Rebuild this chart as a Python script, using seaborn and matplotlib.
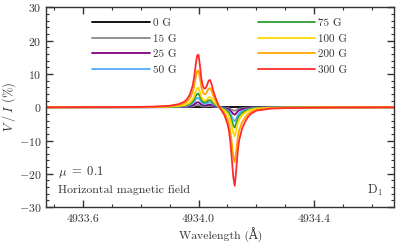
import numpy as np
import pandas as pd
import matplotlib
matplotlib.use("Agg")
import matplotlib.pyplot as plt
import seaborn as sns
from matplotlib.ticker import MultipleLocator, FormatStrFormatter, ScalarFormatter

# wavelength grid (Angstrom)
wave = [4933.475, 4933.60, 4933.70, 4933.80, 4933.85, 4933.90, 4933.93, 4933.95,
        4933.96, 4933.97, 4933.98, 4933.985, 4933.99, 4933.995, 4934.00, 4934.005,
        4934.01, 4934.015, 4934.02, 4934.025, 4934.03, 4934.035, 4934.04, 4934.045,
        4934.05, 4934.055, 4934.06, 4934.065, 4934.07, 4934.075, 4934.08, 4934.09,
        4934.10, 4934.105, 4934.11, 4934.115, 4934.12, 4934.125, 4934.13, 4934.135,
        4934.14, 4934.15, 4934.16, 4934.17, 4934.18, 4934.20, 4934.25, 4934.30,
        4934.40, 4934.50, 4934.675]

# V/I (%) for each field strength
v_0 = [0.0] * len(wave)
v_15 = [0.0, 0.0, 0.0, 0.01, 0.01, 0.02, 0.04, 0.07, 0.11, 0.17, 0.29, 0.41, 0.56, 0.7,
        0.71, 0.56, 0.38, 0.28, 0.25, 0.26, 0.31, 0.36, 0.37, 0.32, 0.23, 0.17, 0.12,
        0.07, 0.02, -0.02, -0.05, -0.11, -0.23, -0.32, -0.47, -0.7, -0.95, -1.06, -0.86,
        -0.61, -0.45, -0.29, -0.2, -0.14, -0.09, -0.05, -0.02, -0.01, -0.01, 0.0, 0.0]
v_25 = [0.0, 0.0, 0.0, 0.01, 0.02, 0.04, 0.09, 0.15, 0.23, 0.36, 0.62, 0.86, 1.19, 1.47,
        1.5, 1.19, 0.81, 0.6, 0.53, 0.55, 0.65, 0.76, 0.78, 0.67, 0.49, 0.36, 0.25, 0.14,
        0.04, -0.04, -0.1, -0.24, -0.48, -0.67, -1.0, -1.47, -2.0, -2.24, -1.81, -1.28,
        -0.95, -0.62, -0.43, -0.29, -0.19, -0.1, -0.04, -0.02, -0.01, -0.01, 0.0]
v_50 = [0.0, 0.0, 0.01, 0.02, 0.04, 0.08, 0.16, 0.29, 0.43, 0.68, 1.17, 1.62, 2.25, 2.79,
        2.84, 2.25, 1.53, 1.13, 1.01, 1.04, 1.22, 1.44, 1.48, 1.26, 0.94, 0.68, 0.47, 0.27,
        0.07, -0.07, -0.18, -0.45, -0.9, -1.26, -1.89, -2.79, -3.78, -4.25, -3.42, -2.43,
        -1.8, -1.17, -0.81, -0.54, -0.36, -0.18, -0.07, -0.05, -0.02, -0.01, 0.0]
v_75 = [0.0, 0.01, 0.01, 0.03, 0.05, 0.12, 0.23, 0.42, 0.62, 0.99, 1.69, 2.34, 3.25, 4.03,
        4.11, 3.25, 2.21, 1.64, 1.46, 1.51, 1.77, 2.08, 2.13, 1.82, 1.35, 0.99, 0.68, 0.39,
        0.1, -0.1, -0.26, -0.65, -1.3, -1.82, -2.73, -4.03, -5.46, -6.14, -4.94, -3.51,
        -2.6, -1.69, -1.17, -0.78, -0.52, -0.26, -0.1, -0.07, -0.03, -0.02, -0.01]
v_100 = [0.0, 0.01, 0.02, 0.04, 0.07, 0.17, 0.33, 0.59, 0.89, 1.41, 2.41, 3.33, 4.63, 5.74,
         5.85, 4.63, 3.15, 2.33, 2.07, 2.15, 2.52, 2.96, 3.03, 2.59, 1.92, 1.41, 0.96, 0.56,
         0.15, -0.15, -0.37, -0.93, -1.85, -2.59, -3.89, -5.74, -7.77, -8.73, -7.03, -5.0,
         -3.7, -2.41, -1.67, -1.11, -0.74, -0.37, -0.15, -0.09, -0.04, -0.02, -0.01]
v_200 = [0.0, 0.01, 0.035, 0.08, 0.14, 0.32, 0.63, 1.12, 1.68, 2.66, 4.55, 6.3, 8.75, 10.85,
         11.06, 8.75, 5.95, 4.41, 3.92, 4.06, 4.76, 5.6, 5.74, 4.9, 3.64, 2.66, 1.82, 1.05,
         0.28, -0.28, -0.7, -1.75, -3.5, -4.9, -7.35, -10.85, -14.7, -16.52, -13.3, -9.45,
         -7.0, -4.55, -3.15, -2.1, -1.4, -0.7, -0.28, -0.18, -0.08, -0.04, -0.01]
v_300 = [0.0, 0.02, 0.05, 0.12, 0.2, 0.45, 0.9, 1.6, 2.4, 3.8, 6.5, 9.0, 12.5, 15.5,
         15.8, 12.5, 8.5, 6.3, 5.6, 5.8, 6.8, 8.0, 8.2, 7.0, 5.2, 3.8, 2.6, 1.5,
         0.4, -0.4, -1.0, -2.5, -5.0, -7.0, -10.5, -15.5, -21.0, -23.6, -19.0, -13.5,
         -10.0, -6.5, -4.5, -3.0, -2.0, -1.0, -0.4, -0.25, -0.12, -0.06, -0.02]

labels = ["0 G", "15 G", "25 G", "50 G", "75 G", "100 G", "200 G", "300 G"]
series = [v_0, v_15, v_25, v_50, v_75, v_100, v_200, v_300]
colors = ["#000000", "#888888", "#800080", "#55aaff", "#2e9e2e", "#ffd700", "#ffa500", "#ff2a2a"]

sns.set_style("ticks")
plt.rcParams["font.family"] = ["cmr10", "DejaVu Serif"]
plt.rcParams["mathtext.fontset"] = "cm"
plt.rcParams["axes.formatter.use_mathtext"] = True
plt.rcParams["axes.unicode_minus"] = True

fig, ax = plt.subplots(figsize=(4.03, 2.48), dpi=100)
fig.subplots_adjust(left=0.115, right=0.978, top=0.97, bottom=0.165)

for lab, vals, col in zip(labels, series, colors):
    sns.lineplot(x=wave, y=vals, color=col, label=lab, lw=1.3, ax=ax, sort=False)

ax.set_xlim(4933.475, 4934.675)
ax.set_ylim(-30, 30)
ax.xaxis.set_major_locator(MultipleLocator(0.4))
ax.xaxis.set_minor_locator(MultipleLocator(0.1))
ax.xaxis.set_major_formatter(FormatStrFormatter("%.1f"))
ax.yaxis.set_major_locator(MultipleLocator(10))
ax.yaxis.set_minor_locator(MultipleLocator(2))
ax.yaxis.set_major_formatter(ScalarFormatter(useMathText=True))

ax.tick_params(which="both", direction="in", top=True, right=True, labelsize=8.5, colors="#333333")
ax.tick_params(axis="x", which="major", pad=5)
ax.tick_params(which="major", length=5, width=1)
ax.tick_params(which="minor", length=2.5, width=0.8)
for s in ax.spines.values():
    s.set_linewidth(1.0)
    s.set_color("#333333")

ax.set_xlabel("Wavelength (Å)", fontsize=8.5, color="#333333", labelpad=3)
ax.set_ylabel(r"$V\;/\;I$ (%)", fontsize=9, color="#333333", labelpad=1)

ax.text(4933.515, -19.5, r"$\mu\ =\ 0.1$", fontsize=9, color="#333333", va="center")
ax.text(4933.515, -25, "Horizontal magnetic field", fontsize=8.6, color="#333333", va="center")
ax.text(4934.635, -25, r"D$_1$", fontsize=9, color="#333333", va="center", ha="right")

leg = ax.legend(ncol=2, frameon=False, fontsize=8, loc="upper left",
                bbox_to_anchor=(0.11, 0.985), handlelength=5.2, handletextpad=0.25,
                columnspacing=7.3, labelspacing=0.52, borderaxespad=0.3)
for t in leg.get_texts():
    t.set_color("#333333")

fig.savefig("out.png", dpi=100)
